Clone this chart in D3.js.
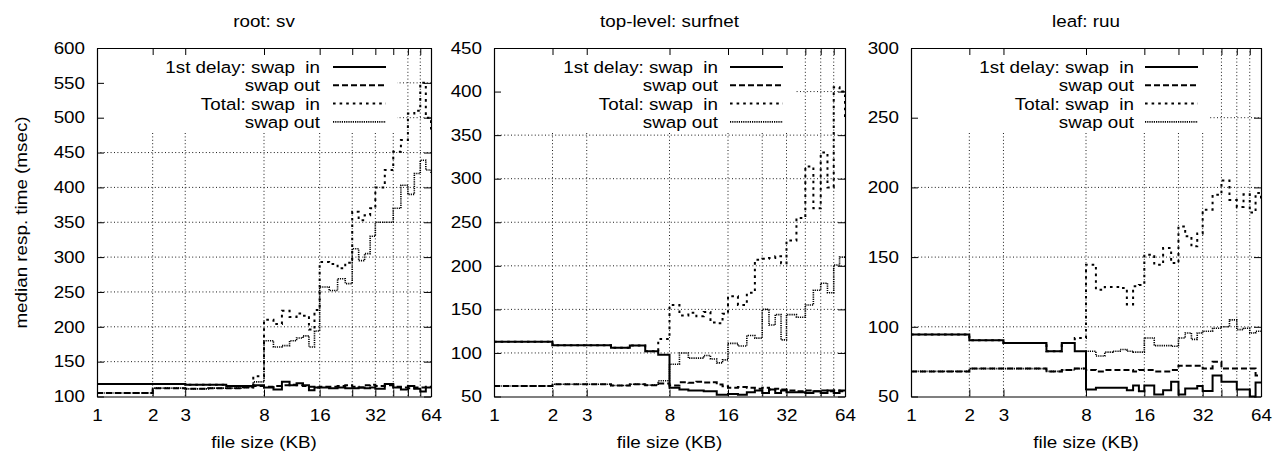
<!DOCTYPE html>
<html>
<head>
<meta charset="utf-8">
<script src="https://cdn.jsdelivr.net/npm/d3@7"></script>
<style>
  body { margin: 0; background: #fff; }
  text { font-family: "Liberation Sans", Arial, sans-serif; font-size: 16.5px; fill: #000; white-space: pre; }
</style>
</head>
<body>
<div id="chart"></div>
<script>

// file sizes (KB) where the medians were measured
var fileSizes = [1, 2, 3, 4, 5, 6, 7, 8, 9, 10, 11, 12, 13, 14, 15, 16, 18, 20, 22, 24, 26, 28, 30, 32, 36, 40, 44, 48, 52, 56, 60, 64];

var panelTitles = ["root: sv", "top-level: surfnet", "leaf: ruu"];
var yRanges = [[100, 600], [50, 450], [50, 300]];
var xTickValues = [1, 2, 3, 8, 16, 24, 32, 40, 48, 56, 64];
var xTickLabels = ["1", "2", "3", "8", "16", "", "32", "", "", "", "64"];
var xGridValues = [2, 3, 8, 16, 24, 32, 40, 48, 56];
var legendLabels = ["1st delay: swap  in", "swap out", "Total: swap  in", "swap out"];

// root: sv
var svFirstIn  = [118, 118, 117, 117, 115, 115, 116, 113, 110, 121, 116, 119, 116, 109, 113, 113, 112, 113, 112, 112, 113, 112, 113, 111, 118, 113, 110, 115, 111, 107, 113, 113];
var svFirstOut = [105, 112, 111, 112, 112, 113, 115, 114, 115, 116, 117, 116, 115, 114, 113, 114, 114, 115, 116, 114, 113, 116, 117, 115, 116, 114, 113, 112, 113, 113, 114, 114];
var svTotalIn  = [118, 118, 117, 117, 115, 115, 129, 210, 204, 223, 214, 219, 216, 196, 224, 293, 290, 284, 292, 365, 353, 360, 370, 400, 425, 451, 468, 506, 510, 550, 500, 480];
var svTotalOut = [105, 112, 111, 112, 112, 113, 121, 180, 171, 173, 180, 184, 187, 171, 194, 257, 252, 269, 262, 312, 295, 305, 330, 350, 350, 370, 403, 390, 420, 439, 425, 420];

// top-level: surfnet
var sfFirstIn  = [112.7, 108.8, 108.8, 106, 108.5, 102, 98, 60, 58, 57, 57, 56, 56, 52, 52, 53, 52, 55, 57, 54, 58, 54, 57, 55, 55, 54, 56, 54, 57, 54, 57, 57];
var sfFirstOut = [62, 64, 64, 62.6, 64, 63, 65, 62.6, 66.4, 65.7, 67, 66, 66.4, 63.7, 61.8, 60, 61, 60, 59, 60, 58, 59, 58, 57, 56, 57, 56, 57, 56, 57, 56, 57];
var sfTotalIn  = [112.7, 108.8, 108.8, 106, 108.5, 102, 116, 155, 143, 146, 142, 147, 135, 134, 145, 165, 155, 169, 207, 208, 209, 211, 203, 229, 255, 314, 266, 330, 290, 405, 400, 370];
var sfTotalOut = [62, 64, 64, 62.6, 64, 63, 68, 87, 100, 94, 94, 97, 93, 88.6, 92, 111, 108, 120, 117, 150, 132, 144, 115, 144, 141, 155, 172, 180, 169, 201, 210, 211];

// leaf: ruu
var ruFirstIn  = [94.4, 90.4, 88.4, 88.4, 82.5, 88.4, 82.5, 55, 56.2, 56.2, 56.2, 56.2, 54.5, 57.9, 53.8, 57.9, 51.5, 54.5, 60.5, 51.5, 55.7, 55.7, 57.5, 54, 65, 60.5, 60.5, 55, 55, 50, 60, 60];
var ruFirstOut = [68, 70, 70, 70, 68, 69, 70, 69, 68, 69, 69, 69, 69, 68, 69, 69, 68, 68, 69, 72, 72, 72, 72, 70, 75, 70, 70, 70, 70, 70, 65, 65];
var ruTotalIn  = [94.4, 90.4, 88.4, 88.4, 82.5, 88.4, 92, 144.6, 126.6, 128.6, 128.6, 127.8, 116, 129, 130, 151.7, 144.6, 156.5, 145.7, 172, 165, 157.7, 167, 184, 194.7, 205, 191, 186, 195, 182, 196, 190];
var ruTotalOut = [68, 70, 70, 70, 68, 69, 70, 82.5, 79, 81.8, 82.5, 83.7, 82.5, 81.8, 81.8, 92, 86.5, 86.5, 86, 92, 95.6, 91, 95.6, 96.8, 99, 100, 105, 98, 99, 95.6, 96.8, 96.8];


var width = 1273, height = 454;
var plotTop = 48, plotBottom = 396.5;
var keyBottom = 132;      // grid is blanked above this, under the key
var stretch = 1.14;       // glyphs in the original are wider than Arial

// gnuplot-ish line types: solid, dashed, short dash, fine dots
var lineStyles = [
  { dash: null,    width: 2 },
  { dash: "6,3",   width: 2 },
  { dash: "2.6,4", width: 2 },
  { dash: "1.2,1", width: 1.6 }
];

var panels = [
  { left: 97,  right: 431,  keyText: 111, sampleFrom: 98,  sampleTo: 45, keyClear: 34, series: [svFirstIn, svFirstOut, svTotalIn, svTotalOut] },
  { left: 494, right: 845,  keyText: 127, sampleFrom: 115, sampleTo: 62, keyClear: 50, series: [sfFirstIn, sfFirstOut, sfTotalIn, sfTotalOut] },
  { left: 911, right: 1261, keyText: 127, sampleFrom: 116, sampleTo: 63, keyClear: 51, series: [ruFirstIn, ruFirstOut, ruTotalIn, ruTotalOut] }
];

var svg = d3.select("#chart")
  .append("svg")
  .attr("width", width)
  .attr("height", height);

function wideText(g, x, y, str, anchor, rotate) {
  return g.append("text")
    .attr("transform", "translate(" + x + "," + y + ")" + (rotate ? " rotate(" + rotate + ")" : "") + " scale(" + stretch + ",1)")
    .attr("text-anchor", anchor)
    .text(str);
}

panels.forEach(function(p, i) {
  var g = svg.append("g");

  var x = d3.scaleLog().base(2)
    .domain([1, 64])
    .range([p.left, p.right]);

  var y = d3.scaleLinear()
    .domain(yRanges[i])
    .range([plotBottom, plotTop]);

  var yTicks = d3.range(yRanges[i][0], yRanges[i][1] + 1, 50);

  // Grid
  var grid = g.append("g")
    .attr("stroke", "#000")
    .attr("stroke-width", 0.9)
    .attr("stroke-dasharray", "1,2.4");

  grid.selectAll(".vgrid")
    .data(xGridValues)
    .enter()
    .append("line")
      .attr("x1", function(d) { return x(d); })
      .attr("x2", function(d) { return x(d); })
      .attr("y1", plotTop)
      .attr("y2", plotBottom);

  grid.selectAll(".hgrid")
    .data(yTicks.slice(1, -1))
    .enter()
    .append("line")
      .attr("x1", p.left)
      .attr("x2", p.right)
      .attr("y1", function(d) { return y(d); })
      .attr("y2", function(d) { return y(d); });

  // blank area behind the key
  g.append("rect")
    .attr("x", p.left + 1)
    .attr("y", plotTop + 1)
    .attr("width", p.right - p.keyClear - p.left - 1)
    .attr("height", keyBottom - plotTop - 1)
    .attr("fill", "#fff");

  // Data, as steps
  var line = d3.line()
    .curve(d3.curveStepAfter)
    .x(function(d, j) { return x(fileSizes[j]); })
    .y(function(d) { return y(d); });

  p.series.forEach(function(values, s) {
    g.append("path")
      .datum(values)
      .attr("d", line)
      .attr("fill", "none")
      .attr("stroke", "#000")
      .attr("stroke-width", lineStyles[s].width)
      .attr("stroke-dasharray", lineStyles[s].dash)
      .attr("stroke-linejoin", "miter");
  });

  // Axes: ticks pointing inward on all four sides
  var xAxis = g.append("g")
    .attr("transform", "translate(0," + plotBottom + ")")
    .call(d3.axisBottom(x)
      .tickValues(xTickValues)
      .tickFormat(function(d, j) { return xTickLabels[j]; })
      .tickSizeInner(-7)
      .tickSizeOuter(0)
      .tickPadding(13));

  g.append("g")
    .attr("transform", "translate(0," + plotTop + ")")
    .call(d3.axisTop(x).tickValues(xTickValues).tickFormat("").tickSizeInner(-7).tickSizeOuter(0));

  var yAxis = g.append("g")
    .attr("transform", "translate(" + p.left + ",0)")
    .call(d3.axisLeft(y)
      .tickValues(yTicks)
      .tickSizeInner(-7)
      .tickSizeOuter(0)
      .tickPadding(12 / stretch));

  g.append("g")
    .attr("transform", "translate(" + p.right + ",0)")
    .call(d3.axisRight(y).tickValues(yTicks).tickFormat("").tickSizeInner(-7).tickSizeOuter(0));

  g.selectAll(".domain").attr("stroke-width", 1.2);
  g.selectAll(".tick line").attr("stroke-width", 1);
  xAxis.selectAll("text").attr("transform", "scale(" + stretch + ",1)");
  yAxis.selectAll("text").attr("transform", "scale(" + stretch + ",1)");

  // Titles and labels
  wideText(g, (p.left + p.right) / 2, 26.5, panelTitles[i], "middle");
  wideText(g, (p.left + p.right) / 2, 448, "file size (KB)", "middle");
  if (i === 0) {
    wideText(g, 27, 222.5, "median resp. time (msec)", "middle", -90);
  }

  // Key
  legendLabels.forEach(function(label, k) {
    var rowY = 67 + k * 18.3;
    wideText(g, p.right - p.keyText, rowY + 6, label, "end");
    g.append("line")
      .attr("x1", p.right - p.sampleFrom)
      .attr("x2", p.right - p.sampleTo)
      .attr("y1", rowY)
      .attr("y2", rowY)
      .attr("stroke", "#000")
      .attr("stroke-width", lineStyles[k].width)
      .attr("stroke-dasharray", lineStyles[k].dash);
  });
});

</script>
</body>
</html>
